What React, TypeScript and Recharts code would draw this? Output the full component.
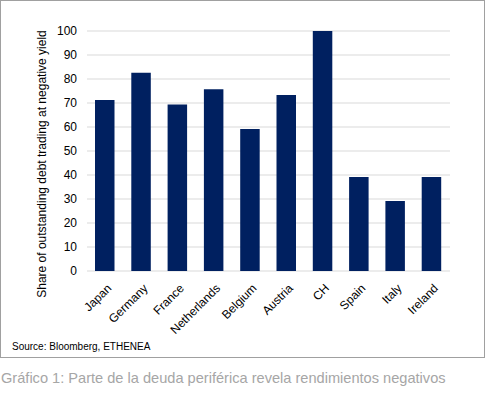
import { BarChart, Bar, XAxis, YAxis, CartesianGrid, Label } from "recharts";

const countries = ["Japan", "Germany", "France", "Netherlands", "Belgium", "Austria", "CH", "Spain", "Italy", "Ireland"];
const shareNegative = [71.2, 82.6, 69.4, 75.7, 59.2, 73.3, 100, 39.2, 29.2, 39.2];
const yTicks = [0, 10, 20, 30, 40, 50, 60, 70, 80, 90, 100];

const data = countries.map((c, i) => ({ country: c, share: shareNegative[i] }));

const FONT = "Arial, 'Liberation Sans', sans-serif";

const CountryTick = ({ x, y, payload }: any) => (
  <g transform={`translate(${x + 4},${y + 7}) rotate(-45)`}>
    <text x={0} y={0} dy="0.35em" textAnchor="end" fontSize={12} fill="#000" fontFamily={FONT}>
      {payload.value}
    </text>
  </g>
);

const YTitle = ({ viewBox }: any) => (
  <text
    transform={`translate(${viewBox.x + 41},163) rotate(-90)`}
    textAnchor="middle"
    dominantBaseline="central"
    fontSize={12}
    fill="#000"
    fontFamily={FONT}
  >
    Share of outstanding debt trading at negative yield
  </text>
);

export default function App() {
  return (
    <div style={{ position: "absolute", left: 0, top: 0, width: 486, height: 394, background: "#fff", fontFamily: FONT }}>
      <div
        style={{
          position: "absolute",
          left: 0,
          top: 0,
          width: 483,
          height: 356,
          border: "1px solid #a0a0a0",
        }}
      >
        <BarChart width={483} height={356} data={data} margin={{ top: 30, right: 34, bottom: 0, left: 0 }}>
          <CartesianGrid vertical={false} stroke="#d9d9d9" />
          <XAxis
            dataKey="country"
            interval={0}
            axisLine={false}
            tickLine={false}
            height={86}
            tick={<CountryTick />}
          />
          <YAxis
            width={86}
            domain={[0, 100]}
            ticks={yTicks}
            axisLine={false}
            tickLine={false}
            tickMargin={4}
            tick={{ fontSize: 12, fill: "#000", fontFamily: FONT }}
          >
            <Label content={<YTitle />} />
          </YAxis>
          <Bar dataKey="share" fill="#002060" barSize={19.5} isAnimationActive={false} />
        </BarChart>
        <div style={{ position: "absolute", left: 11, top: 340, fontSize: 10, color: "#000" }}>
          Source: Bloomberg, ETHENEA
        </div>
      </div>
      <div style={{ position: "absolute", left: 1, top: 370, fontSize: 14.6, color: "#a6a6a6", whiteSpace: "nowrap" }}>
        Gráfico 1: Parte de la deuda periférica revela rendimientos negativos
      </div>
    </div>
  );
}
